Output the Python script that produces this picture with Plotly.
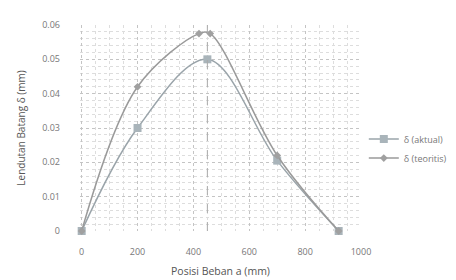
import plotly.graph_objects as go

# Data
x_aktual = [0, 200, 450, 700, 920]
y_aktual = [0, 0.030, 0.050, 0.0205, 0]
x_teoritis = [0, 200, 420, 460, 700, 920]
y_teoritis = [0, 0.042, 0.0575, 0.0575, 0.022, 0]
name_aktual = "δ (aktual)"
name_teoritis = "δ (teoritis)"
x_ticks = [0, 200, 400, 600, 800, 1000]
y_ticks = [0, 0.01, 0.02, 0.03, 0.04, 0.05, 0.06]
y_ticklabels = ["0", "0.01", "0.02", "0.03", "0.04", "0.05", "0.06"]

font_family = "Open Sans, Liberation Sans, sans-serif"

fig = go.Figure()
fig.add_trace(go.Scatter(
    x=x_aktual, y=y_aktual, name=name_aktual, mode="lines+markers",
    line=dict(color="#9aa4aa", width=1.5, shape="spline", smoothing=1.0),
    marker=dict(symbol="square", size=8, color="#a9b4ba"),
    cliponaxis=False,
))
fig.add_trace(go.Scatter(
    x=x_teoritis, y=y_teoritis, name=name_teoritis, mode="lines+markers",
    line=dict(color="#9a9a9a", width=1.5, shape="spline", smoothing=1.0),
    marker=dict(symbol="diamond", size=6, color="#a0a0a0"),
    cliponaxis=False,
))

fig.add_vline(x=450, line=dict(color="#aaaaaa", width=1, dash="dash"))

fig.update_layout(
    width=456, height=280,
    margin=dict(l=72, r=100, t=17, b=57),
    paper_bgcolor="white", plot_bgcolor="white",
    font=dict(family=font_family, size=9, color="#666666"),
    showlegend=True,
    legend=dict(x=1.01, y=0.40, xanchor="left", yanchor="middle",
                font=dict(size=9, color="#777777"), bgcolor="rgba(0,0,0,0)",
                tracegroupgap=0, itemwidth=30),
    xaxis=dict(
        range=[-6, 1000], tickvals=x_ticks, ticktext=[str(v) for v in x_ticks],
        showgrid=True, gridcolor="#c4c4c4", griddash="dot", gridwidth=1,
        minor=dict(dtick=50, showgrid=True, gridcolor="#dddddd", griddash="dot"),
        zeroline=False, showline=False, ticks="", ticklabelstandoff=14,
        automargin=False,
        title=dict(text="Posisi Beban a (mm)", font=dict(size=10.5, color="#555555"), standoff=10),
        tickfont=dict(size=9, color="#777777"),
    ),
    yaxis=dict(
        range=[0, 0.06], tickvals=y_ticks, ticktext=y_ticklabels,
        showgrid=True, gridcolor="#c4c4c4", griddash="dot", gridwidth=1,
        minor=dict(dtick=0.002, showgrid=True, gridcolor="#dddddd", griddash="dot"),
        zeroline=False, showline=False, ticks="", ticklabelstandoff=19,
        automargin=False,
        title=dict(text="Lendutan Batang δ (mm)", font=dict(size=10, color="#555555"), standoff=14),
        tickfont=dict(size=9, color="#777777"),
    ),
)

fig.write_html("out.html")
